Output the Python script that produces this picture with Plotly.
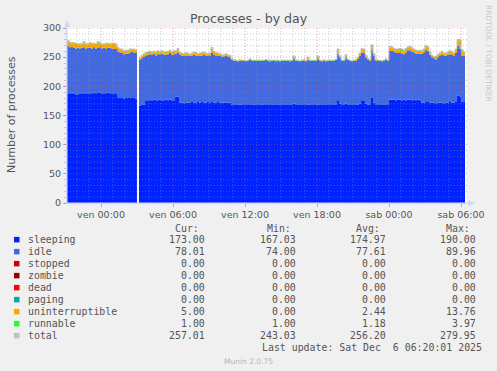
import plotly.graph_objects as go
import pandas as pd

# ---------------- data (10-minute samples) ----------------
START = "2025-12-04 21:10"
N_SAMPLES = 200

sleeping = [
    188, 188, 188, 187, 185, 185,
    187, 188, 188, 188, 188, 187,
    188, 189, 188, 190, 189, 188,
    188, 188, 189, 188, 188, 188,
    188, 180, 180, 180, 179, 180,
    180, 180, 180, 180, 179, None,
    167, 168, 169, 175, 176, 176,
    176, 177, 176, 176, 177, 176,
    176, 177, 176, 177, 176, 176,
    182, 182, 172, 172, 171, 172,
    172, 172, 173, 172, 172, 173,
    172, 173, 172, 172, 173, 172,
    173, 172, 172, 173, 172, 172,
    172, 172, 172, 172, 169, 168,
    168, 168, 169, 168, 168, 168,
    168, 168, 168, 169, 168, 168,
    168, 169, 168, 168, 168, 168,
    168, 168, 168, 168, 169, 168,
    168, 168, 168, 168, 168, 170,
    168, 168, 168, 168, 168, 168,
    169, 168, 168, 168, 168, 169,
    168, 168, 168, 168, 168, 168,
    168, 168, 168, 176, 170, 168,
    168, 170, 168, 168, 168, 168,
    168, 169, 170, 176, 175, 170,
    169, 168, 180, 172, 168, 168,
    168, 168, 168, 168, 168, 177,
    177, 177, 176, 177, 177, 176,
    177, 176, 177, 177, 176, 177,
    176, 177, 176, 172, 172, 173,
    173, 172, 172, 172, 171, 172,
    172, 172, 171, 172, 172, 173,
    172, 172, 173, 184, 183, 174,
    173, 173,
]

idle = [
    81, 79, 80, 79, 80, 81,
    78, 78, 79, 77, 78, 79,
    77, 78, 77, 76, 78, 77,
    78, 76, 77, 78, 77, 76,
    76, 80, 78, 77, 76, 76,
    76, 78, 79, 78, 78, None,
    78, 80, 82, 78, 78, 79,
    78, 79, 77, 79, 78, 80,
    78, 77, 79, 80, 78, 79,
    74, 76, 82, 81, 82, 81,
    81, 80, 80, 82, 81, 80,
    81, 80, 82, 81, 80, 81,
    84, 82, 81, 80, 80, 79,
    79, 80, 79, 78, 76, 76,
    76, 75, 75, 76, 76, 75,
    76, 77, 76, 75, 76, 76,
    76, 75, 76, 77, 76, 75,
    76, 76, 75, 76, 74, 76,
    76, 76, 76, 75, 76, 78,
    76, 76, 75, 76, 76, 75,
    77, 76, 76, 76, 76, 78,
    76, 75, 76, 75, 76, 76,
    76, 76, 77, 80, 79, 76,
    76, 79, 77, 76, 75, 76,
    76, 78, 82, 82, 82, 80,
    77, 76, 82, 80, 76, 76,
    76, 75, 76, 77, 76, 84,
    84, 82, 81, 80, 80, 80,
    78, 82, 85, 85, 83, 81,
    80, 79, 80, 84, 85, 89,
    88, 82, 78, 76, 75, 78,
    80, 82, 81, 80, 82, 82,
    82, 80, 84, 86, 82, 79,
    79, 78,
]

uninterruptible = [
    8, 8, 6, 7, 8, 6,
    7, 6, 8, 7, 6, 8,
    8, 6, 7, 9, 7, 6,
    6, 8, 7, 6, 8, 9,
    8, 6, 5, 5, 5, 5,
    5, 5, 4, 5, 5, None,
    3, 4, 4, 4, 3, 4,
    4, 3, 5, 4, 3, 4,
    4, 5, 3, 4, 4, 5,
    4, 6, 3, 3, 2, 3,
    3, 2, 3, 4, 3, 2,
    3, 4, 4, 3, 2, 3,
    8, 5, 4, 3, 3, 2,
    2, 3, 2, 2, 1, 1,
    0, 0, 1, 0, 0, 0,
    0, 1, 0, 0, 0, 0,
    0, 0, 0, 0, 0, 1,
    0, 0, 1, 0, 0, 0,
    0, 0, 0, 1, 0, 3,
    0, 0, 0, 0, 1, 0,
    2, 0, 0, 0, 0, 3,
    0, 0, 1, 0, 0, 0,
    0, 0, 0, 6, 2, 0,
    0, 4, 0, 0, 0, 0,
    1, 2, 4, 5, 5, 3,
    1, 1, 7, 3, 1, 0,
    0, 0, 0, 1, 0, 6,
    6, 5, 5, 6, 5, 4,
    5, 6, 5, 6, 6, 5,
    5, 4, 5, 4, 5, 7,
    6, 4, 2, 1, 2, 3,
    4, 5, 4, 3, 4, 5,
    5, 4, 6, 9, 13, 8,
    6, 5,
]

runnable = [
    2, 1, 1, 2, 1, 1,
    1, 1, 2, 1, 1, 1,
    1, 1, 1, 2, 1, 1,
    1, 2, 1, 1, 1, 1,
    1, 1, 1, 2, 1, 1,
    1, 1, 1, 1, 1, None,
    1, 1, 1, 1, 2, 1,
    1, 1, 1, 2, 1, 1,
    1, 1, 2, 1, 1, 1,
    1, 1, 1, 1, 1, 2,
    1, 1, 1, 1, 2, 1,
    1, 1, 1, 1, 1, 1,
    2, 1, 1, 1, 1, 1,
    1, 1, 1, 1, 1, 1,
    1, 1, 1, 1, 1, 1,
    1, 1, 1, 1, 1, 1,
    1, 1, 1, 1, 1, 1,
    1, 1, 1, 1, 1, 1,
    1, 1, 1, 1, 1, 1,
    1, 1, 1, 1, 1, 1,
    2, 1, 1, 1, 1, 2,
    1, 1, 1, 1, 1, 1,
    1, 1, 1, 2, 1, 1,
    1, 1, 1, 1, 1, 1,
    1, 1, 1, 2, 2, 1,
    1, 1, 2, 1, 1, 1,
    1, 1, 1, 1, 1, 1,
    1, 1, 2, 1, 3, 4,
    2, 1, 1, 1, 1, 1,
    1, 1, 1, 1, 2, 1,
    1, 1, 1, 2, 3, 2,
    1, 1, 1, 2, 1, 1,
    1, 1, 1, 1, 2, 2,
    1, 1,
]

# all-zero series (Max 0.00 in the legend)
stopped = [0] * N_SAMPLES
zombie = [0] * N_SAMPLES
dead = [0] * N_SAMPLES
paging = [0] * N_SAMPLES

series_names = ["sleeping", "idle", "stopped", "zombie", "dead", "paging",
                "uninterruptible", "runnable", "total"]
series_colors = ["#0022ff", "#4169e1", "#cc0000", "#990000", "#ff0000", "#00aaaa",
                 "#ffa500", "#22ff22", "#c0c0c0"]
cur_vals = [173.00, 78.01, 0.00, 0.00, 0.00, 0.00, 5.00, 1.00, 257.01]
min_vals = [167.03, 74.00, 0.00, 0.00, 0.00, 0.00, 0.00, 1.00, 243.03]
avg_vals = [174.97, 77.61, 0.00, 0.00, 0.00, 0.00, 2.44, 1.18, 256.20]
max_vals = [190.00, 89.96, 0.00, 0.00, 0.00, 0.00, 13.76, 3.97, 279.95]

tick_vals = ["2025-12-05 00:00", "2025-12-05 06:00", "2025-12-05 12:00",
             "2025-12-05 18:00", "2025-12-06 00:00", "2025-12-06 06:00"]
tick_text = ["ven 00:00", "ven 06:00", "ven 12:00", "ven 18:00", "sab 00:00", "sab 06:00"]
y_ticks = [0, 50, 100, 150, 200, 250, 300]

TITLE = "Processes - by day"
Y_TITLE = "Number of processes"
LAST_UPDATE = "Last update: Sat Dec  6 06:20:01 2025"
VERSION = "Munin 2.0.75"
WATERMARK = "RRDTOOL / TOBI OETIKER"

# ---------------- figure ----------------
times = pd.date_range(START, periods=N_SAMPLES, freq="10min")
stack_series = [sleeping, idle, stopped, zombie, dead, paging, uninterruptible, runnable]
total = []
for k in range(N_SAMPLES):
    vals = [s[k] for s in stack_series]
    total.append(None if any(v is None for v in vals) else sum(vals))

fig = go.Figure()
for name, col, ys in zip(series_names[:-1], series_colors[:-1], stack_series):
    fig.add_trace(go.Scatter(
        x=times, y=ys, name=name, mode="lines", stackgroup="one",
        line=dict(width=0, shape="hv", color=col), fillcolor=col,
        hoverinfo="skip"))
fig.add_trace(go.Scatter(
    x=times, y=total, name="total", mode="lines",
    line=dict(width=1, shape="hv", color=series_colors[-1]), hoverinfo="skip"))

# plot-area geometry in pixels
W, H = 497, 371
L, R_, T_, B_ = 67, 467, 28, 203


def px(xp):
    return (xp - L) / (R_ - L)


def py(yp):
    return (B_ - yp) / (B_ - T_)


GRID_MINOR = "rgba(143,143,143,0.45)"
GRID_MAJOR = "rgba(222,79,79,0.55)"
AXIS_COL = "#CFD6F8"
FONT_COL = "#555555"
DASH = "1px,2px"

shapes = []
# horizontal grid (above the data, like rrdtool)
for v in range(10, 301, 10):
    shapes.append(dict(type="line", xref="paper", yref="y", x0=0, x1=1, y0=v, y1=v,
                       line=dict(color=GRID_MAJOR if v % 50 == 0 else GRID_MINOR,
                                 width=1, dash=DASH), layer="above"))
# vertical grid, hourly
for h in pd.date_range("2025-12-04 22:00", "2025-12-06 06:00", freq="1h"):
    shapes.append(dict(type="line", xref="x", yref="paper", x0=h, x1=h, y0=0, y1=1,
                       line=dict(color=GRID_MAJOR if h.hour % 6 == 0 else GRID_MINOR,
                                 width=1, dash=DASH), layer="above"))
# axis extensions and arrows
shapes.append(dict(type="line", xref="paper", yref="paper", x0=px(L), x1=px(L),
                   y0=py(B_), y1=py(24), line=dict(color=AXIS_COL, width=1), layer="above"))
shapes.append(dict(type="line", xref="paper", yref="paper", x0=px(L), x1=px(470),
                   y0=py(B_), y1=py(B_), line=dict(color=AXIS_COL, width=1), layer="above"))
shapes.append(dict(type="path", xref="paper", yref="paper",
                   path=f"M {px(64)} {py(27)} L {px(70)} {py(27)} L {px(67)} {py(20)} Z",
                   fillcolor=AXIS_COL, line=dict(width=0), layer="above"))
shapes.append(dict(type="path", xref="paper", yref="paper",
                   path=f"M {px(468)} {py(200)} L {px(468)} {py(206)} L {px(475)} {py(203)} Z",
                   fillcolor=AXIS_COL, line=dict(width=0), layer="above"))

annotations = []
annotations.append(dict(text=TITLE, x=px(249), y=py(18.5), xref="paper", yref="paper",
                        showarrow=False, xanchor="center", yanchor="middle",
                        font=dict(family="DejaVu Sans", size=12.6, color=FONT_COL)))
annotations.append(dict(text=Y_TITLE, x=px(11), y=py(114), xref="paper", yref="paper",
                        showarrow=False, textangle=-90, xanchor="center", yanchor="middle",
                        font=dict(family="DejaVu Sans", size=11, color=FONT_COL)))
annotations.append(dict(text=WATERMARK, x=px(489), y=py(53), xref="paper", yref="paper",
                        showarrow=False, textangle=90, xanchor="center", yanchor="middle",
                        font=dict(family="DejaVu Sans", size=7.5, color="#c8c8c8")))

MONO = "DejaVu Sans Mono"
MSIZE = 9.9
col_hdr_right = [199.5, 292, 380.5, 470.5]
col_val_right = [206, 296.5, 387, 477]
for txt, xr in zip(["Cur:", "Min:", "Avg:", "Max:"], col_hdr_right):
    annotations.append(dict(text=txt, x=px(xr), y=py(228), xref="paper", yref="paper",
                            showarrow=False, xanchor="right", yanchor="middle", borderpad=0,
                            font=dict(family=MONO, size=MSIZE, color=FONT_COL)))
for j, name in enumerate(series_names):
    yrow = 239.5 + 12 * j
    shapes.append(dict(type="rect", xref="paper", yref="paper",
                       x0=px(14), x1=px(19.5), y0=py(yrow + 2.9), y1=py(yrow - 2.6),
                       fillcolor=series_colors[j], line=dict(width=0)))
    annotations.append(dict(text=name, x=px(26.5), y=py(yrow), xref="paper", yref="paper",
                            showarrow=False, xanchor="left", yanchor="middle", borderpad=0,
                            font=dict(family=MONO, size=MSIZE, color=FONT_COL)))
    for vals, xr in zip([cur_vals, min_vals, avg_vals, max_vals], col_val_right):
        annotations.append(dict(text=f"{vals[j]:.2f}", x=px(xr), y=py(yrow),
                                xref="paper", yref="paper", showarrow=False,
                                xanchor="right", yanchor="middle", borderpad=0,
                                font=dict(family=MONO, size=MSIZE, color=FONT_COL)))
annotations.append(dict(text=LAST_UPDATE.replace(" ", "&nbsp;"), x=px(482.5), y=py(347.5),
                        xref="paper", yref="paper", showarrow=False, xanchor="right",
                        yanchor="middle", borderpad=0,
                        font=dict(family=MONO, size=MSIZE, color=FONT_COL)))
annotations.append(dict(text=VERSION, x=px(248), y=py(361), xref="paper", yref="paper",
                        showarrow=False, xanchor="center", yanchor="middle",
                        font=dict(family="DejaVu Sans", size=7.5, color="#b4b4b4")))

fig.update_layout(
    width=W, height=H,
    margin=dict(l=L, r=W - R_, t=T_, b=H - B_, pad=0, autoexpand=False),
    paper_bgcolor="#f0f0f0", plot_bgcolor="#ffffff",
    showlegend=False,
    font=dict(family="DejaVu Sans", size=9.5, color=FONT_COL),
    shapes=shapes, annotations=annotations,
    xaxis=dict(type="date", range=[START, "2025-12-06 06:30"], automargin=False,
               tickmode="array", tickvals=tick_vals, ticktext=tick_text,
               showgrid=False, zeroline=False, showline=True, linecolor=AXIS_COL,
               ticks="outside", ticklen=3, tickcolor=GRID_MAJOR,
               tickfont=dict(size=9.5, color=FONT_COL), layer="above traces",
               fixedrange=True),
    yaxis=dict(range=[0, 300], tickmode="array", tickvals=y_ticks, automargin=False,
               showgrid=False, zeroline=False, showline=True, linecolor=AXIS_COL,
               ticks="outside", ticklen=3, tickcolor=GRID_MAJOR,
               minor=dict(ticks="outside", ticklen=2, tickcolor=GRID_MINOR, dtick=10,
                          showgrid=False),
               tickfont=dict(size=9.5, color=FONT_COL), layer="above traces",
               fixedrange=True),
)

fig.write_html(
    "out.html",
    config={"displayModeBar": False, "staticPlot": True},
    post_script="document.body.style.margin='0';document.body.style.padding='0';"
                "document.body.style.background='#f0f0f0';"
                "document.body.style.overflow='hidden';",
)
